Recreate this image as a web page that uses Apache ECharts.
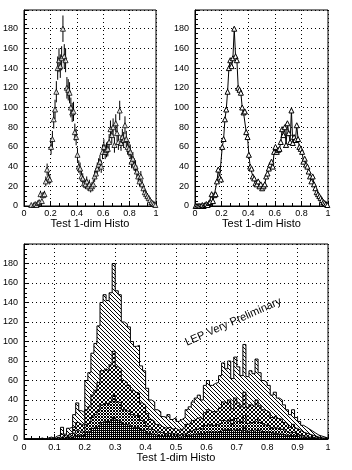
<!DOCTYPE html>
<html>
<head>
<meta charset="utf-8">
<script src="https://cdn.jsdelivr.net/npm/echarts@6/dist/echarts.min.js"></script>
<style>
  html, body { margin: 0; padding: 0; background: #fff; }
  #chart { width: 352px; height: 470px; }
</style>
</head>
<body>
<div id="chart"></div>
<script>
// histogram binning: 100 bins on [0, 1]
const nBins = 100
const xLow = 0
const xHigh = 1

// total contents (top panels and outer histogram of the bottom panel)
const counts = [
  0, 0, 0, 0, 0, 1, 0, 1, 2, 1,
  3, 4, 12, 5, 11, 12, 25, 37, 29, 27,
  60, 68, 88, 98, 116, 140, 148, 142, 150, 180,
  152, 148, 120, 118, 115, 100, 95, 96, 75, 70,
  52, 40, 38, 30, 28, 23, 22, 25, 20, 22,
  18, 20, 22, 30, 33, 38, 42, 45, 40, 55,
  60, 55, 57, 58, 65, 78, 72, 80, 62, 84,
  74, 65, 97, 64, 70, 67, 82, 68, 60, 58,
  55, 45, 48, 42, 40, 35, 30, 25, 30, 22,
  18, 14, 12, 10, 8, 6, 4, 3, 2, 1
]
// inner components of the bottom panel
const part2 = [
  0, 0, 0, 0, 0, 0, 0, 0, 1, 0,
  1, 2, 5, 3, 5, 6, 12, 17, 15, 14,
  30, 33, 45, 50, 58, 70, 72, 70, 76, 90,
  74, 72, 60, 58, 55, 50, 48, 47, 37, 35,
  26, 20, 18, 15, 14, 12, 11, 12, 10, 11,
  9, 10, 11, 15, 16, 19, 21, 22, 20, 27,
  30, 28, 28, 29, 32, 38, 36, 40, 31, 42,
  37, 33, 48, 32, 35, 33, 40, 34, 30, 29,
  27, 22, 24, 21, 20, 17, 15, 12, 15, 11,
  9, 7, 6, 5, 4, 3, 2, 1, 1, 0
]
const part3 = [
  0, 0, 0, 0, 0, 0, 0, 0, 0, 0,
  1, 1, 3, 1, 3, 3, 6, 9, 7, 7,
  15, 17, 22, 25, 29, 35, 37, 35, 38, 45,
  38, 37, 30, 29, 28, 25, 24, 24, 19, 17,
  13, 10, 9, 7, 7, 6, 5, 6, 5, 5,
  4, 5, 5, 7, 8, 9, 10, 11, 10, 14,
  15, 14, 14, 15, 16, 19, 18, 20, 15, 21,
  18, 16, 24, 16, 17, 17, 20, 17, 15, 14,
  14, 11, 12, 10, 10, 9, 7, 6, 7, 5,
  4, 3, 3, 2, 2, 1, 1, 1, 0, 0
]
const part4 = [
  0, 0, 0, 0, 0, 0, 0, 0, 0, 0,
  0, 0, 1, 0, 1, 1, 3, 4, 4, 3,
  7, 8, 11, 12, 14, 17, 18, 18, 19, 22,
  19, 18, 15, 15, 14, 12, 12, 12, 9, 9,
  6, 5, 5, 4, 3, 3, 3, 3, 2, 3,
  2, 2, 3, 4, 4, 5, 5, 6, 5, 7,
  7, 7, 7, 7, 8, 10, 9, 10, 8, 10,
  9, 8, 12, 8, 9, 8, 10, 8, 7, 7,
  7, 6, 6, 5, 5, 4, 4, 3, 4, 3,
  2, 2, 1, 1, 1, 1, 0, 0, 0, 0
]

const topXTicks = [0, 0.2, 0.4, 0.6, 0.8, 1]
const bottomXTicks = [0, 0.1, 0.2, 0.3, 0.4, 0.5, 0.6, 0.7, 0.8, 0.9, 1]
const yTicks = [0, 20, 40, 60, 80, 100, 120, 140, 160, 180]
const xTitle = 'Test 1-dim Histo'
const stamp = 'LEP Very Preliminary'

const binW = (xHigh - xLow) / nBins
const centers = counts.map((_, i) => xLow + (i + 0.5) * binW)
const edges = counts.map((_, i) => xLow + i * binW).concat([xHigh])

const FONT = 'Liberation Sans, Arial, sans-serif'

// little bitmap hatch patterns
const hatch = (size, cells) => {
  const c = document.createElement('canvas')
  c.width = c.height = size
  const g = c.getContext('2d')
  g.fillStyle = '#fff'
  g.fillRect(0, 0, size, size)
  g.fillStyle = '#000'
  cells.forEach(([x, y]) => g.fillRect(x, y, 1, 1))
  return { image: c, repeat: 'repeat' }
}
const diag = n => Array.from({ length: n }, (_, i) => [i, i])
const anti = n => Array.from({ length: n }, (_, i) => [n - 1 - i, i])
const fills = [
  hatch(4, diag(4)),
  hatch(4, diag(4).concat(anti(4))),
  hatch(3, diag(3).concat(anti(3))),
  hatch(2, [[0, 0], [1, 1], [1, 0]])
]

const axisCommon = {
  axisLine: { lineStyle: { color: '#000', width: 1 } },
  axisTick: { inside: true, length: 5, lineStyle: { color: '#000' } },
  minorTick: { show: true, length: 3, lineStyle: { color: '#000' } },
  axisLabel: { color: '#000', fontFamily: FONT, fontSize: 9 },
  splitLine: { show: true, lineStyle: { color: '#000', type: [1, 3], width: 1 } }
}

const mkX = (gi, ticks, minorSplit, labelMargin, nameGap) => ({
  ...axisCommon,
  gridIndex: gi,
  type: 'value',
  min: xLow, max: xHigh,
  interval: ticks[1] - ticks[0],
  minorTick: { ...axisCommon.minorTick, splitNumber: minorSplit },
  axisLabel: { ...axisCommon.axisLabel, margin: labelMargin },
  name: xTitle,
  nameLocation: 'middle',
  nameGap: nameGap,
  nameTextStyle: { color: '#000', fontFamily: FONT, fontSize: 11 }
})
const mkY = (gi, max) => ({
  ...axisCommon,
  gridIndex: gi,
  type: 'value',
  min: 0, max: max,
  interval: yTicks[1] - yTicks[0],
  minorTick: { ...axisCommon.minorTick, splitNumber: 4 },
  axisLabel: { ...axisCommon.axisLabel, margin: 6, showMaxLabel: false }
})

const errBars = counts.map((v, i) => [centers[i], v - Math.sqrt(v), v + Math.sqrt(v)]).filter(d => d[2] > d[1])
const markerPts = counts.map((v, i) => [centers[i], v])
const stepData = arr => edges.map((x, i) => [x, arr[Math.min(i, arr.length - 1)]])

const layerSeries = [counts, part2, part3, part4].map((arr, k) => ({
  type: 'line',
  xAxisIndex: 2, yAxisIndex: 2,
  step: 'end',
  showSymbol: false,
  data: stepData(arr),
  lineStyle: { color: '#000', width: 1 },
  areaStyle: { color: fills[k], opacity: 1 },
  z: 3 + k,
  silent: true
}))

const chart = echarts.init(document.getElementById('chart'), null, { renderer: 'canvas' })
chart.setOption({
  animation: false,
  backgroundColor: '#fff',
  grid: [
    { left: 23, top: 10, width: 133, height: 196, show: true, borderColor: '#000', borderWidth: 1 },
    { left: 195, top: 10, width: 133, height: 196, show: true, borderColor: '#000', borderWidth: 1 },
    { left: 23, top: 244, width: 305, height: 195, show: true, borderColor: '#000', borderWidth: 1 }
  ],
  xAxis: [
    mkX(0, topXTicks, 3, 3, 11),
    mkX(1, topXTicks, 3, 3, 11),
    mkX(2, bottomXTicks, 4, 4, 12)
  ],
  yAxis: [mkY(0, 199), mkY(1, 199), mkY(2, 200)],
  graphic: [{
    type: 'text',
    x: 188, y: 348,
    rotation: 24 * Math.PI / 180,
    style: { text: stamp, font: '11px ' + FONT, fill: '#000', textAlign: 'left', textVerticalAlign: 'bottom' },
    z: 100
  }],
  series: [
    {
      type: 'custom',
      xAxisIndex: 0, yAxisIndex: 0,
      data: errBars,
      renderItem: (params, api) => {
        const a = api.coord([api.value(0), api.value(1)])
        const b = api.coord([api.value(0), api.value(2)])
        return {
          type: 'line',
          shape: { x1: a[0], y1: a[1], x2: b[0], y2: b[1] },
          style: { stroke: '#000', lineWidth: 1 }
        }
      },
      z: 3
    },
    {
      type: 'scatter',
      xAxisIndex: 0, yAxisIndex: 0,
      data: markerPts.filter(d => d[1] > 0),
      symbol: 'triangle',
      symbolSize: 5,
      itemStyle: { color: '#fff', borderColor: '#000', borderWidth: 1 },
      z: 4
    },
    {
      type: 'line',
      xAxisIndex: 1, yAxisIndex: 1,
      data: markerPts,
      symbol: 'triangle',
      symbolSize: 5,
      showAllSymbol: true,
      lineStyle: { color: '#000', width: 1 },
      itemStyle: { color: '#fff', borderColor: '#000', borderWidth: 1 },
      z: 4
    },
    ...layerSeries
  ]
})
</script>
</body>
</html>
